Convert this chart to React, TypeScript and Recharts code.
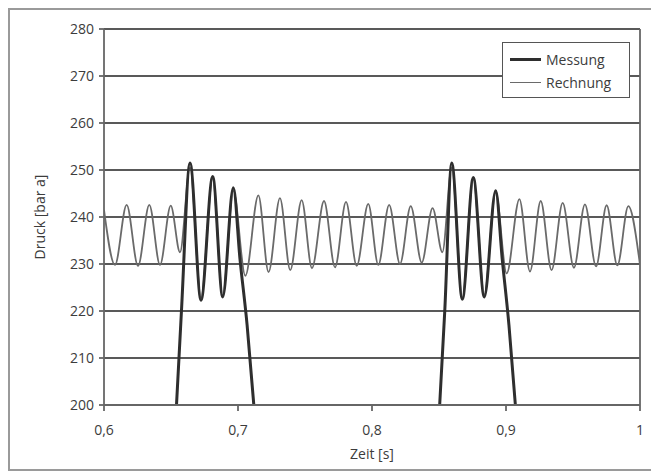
import React from 'react';
import { LineChart, Line, XAxis, YAxis, CartesianGrid, Legend, ReferenceLine } from 'recharts';

// Rechnung (computed) – extrema
const rechnungZeit = [
  0.6, 0.6082, 0.6169, 0.6254, 0.6338, 0.6418, 0.6498, 0.6567, 0.6642, 0.6724,
  0.6811, 0.6886, 0.6965, 0.7055, 0.7152, 0.7228, 0.7313, 0.739, 0.7475, 0.7552,
  0.7642, 0.7724, 0.7806, 0.7886, 0.7972, 0.8047, 0.8128, 0.8209, 0.8289, 0.8371,
  0.8452, 0.8525, 0.8595, 0.8674, 0.8756, 0.8838, 0.8923, 0.9005, 0.91, 0.9179,
  0.9259, 0.934, 0.9423, 0.9507, 0.9589, 0.9672, 0.9751, 0.9831, 0.9913, 1.0,
];
const rechnungDruck = [
  241.5, 229.8, 242.6, 229.6, 242.6, 229.8, 242.4, 232.5, 250.5, 222.8,
  248.2, 223.3, 245.6, 227.5, 244.6, 228.3, 244.0, 228.7, 243.6, 229.1,
  243.4, 229.3, 243.2, 229.6, 242.8, 229.8, 242.6, 230.0, 242.3, 230.3,
  241.9, 232.5, 250.5, 222.8, 248.0, 223.5, 245.2, 228.0, 243.8, 228.4,
  243.4, 228.7, 243.0, 229.2, 242.7, 229.5, 242.5, 229.7, 242.3, 229.8,
];

// Messung (measured) – two bursts, null separates them
const messungZeit = [
  0.6541, 0.6578, 0.6642, 0.6724, 0.6811, 0.6886, 0.6965, 0.7015, 0.7068, 0.7118,
  0.78,
  0.8505, 0.8543, 0.8595, 0.8674, 0.8756, 0.8838, 0.8923, 0.8972, 0.9022, 0.907,
];
const messungDruck: (number | null)[] = [
  200, 220, 251.5, 222.3, 248.6, 223.0, 246.2, 231, 217, 200,
  null,
  200, 220, 251.5, 222.5, 248.4, 223.0, 245.6, 231, 217, 200,
];

const xTicks = [0.6, 0.7, 0.8, 0.9, 1];
const yTicks = [200, 210, 220, 230, 240, 250, 260, 270, 280];

const rechnungData = rechnungZeit.map((t, i) => ({ t, p: rechnungDruck[i] }));
const messungData = messungZeit.map((t, i) => ({ t, p: messungDruck[i] }));

const FONT = '"Open Sans", "Noto Sans", sans-serif';

const legendItems = [
  { name: 'Messung', color: '#2e2e2e', width: 3 },
  { name: 'Rechnung', color: '#6a6a6a', width: 1.6 },
];

const LegendBox = () => (
  <div
    style={{
      width: 128,
      height: 56,
      boxSizing: 'border-box',
      border: '1.5px solid #555',
      background: '#fff',
      fontFamily: FONT,
      fontSize: 14,
      color: '#3c3c3c',
      paddingTop: 5,
    }}
  >
    {legendItems.map((it) => (
      <div key={it.name} style={{ display: 'flex', alignItems: 'center', height: 23, paddingLeft: 7 }}>
        <div style={{ width: 31, height: it.width, background: it.color, marginRight: 5 }} />
        <span>{it.name}</span>
      </div>
    ))}
  </div>
);

export default function App() {
  return (
    <div style={{ width: 641, height: 459, border: '2px solid #9a9a9a', background: '#fff' }}>
      <LineChart width={641} height={459} margin={{ top: 19, right: 11, bottom: 4, left: 0 }}>
        <CartesianGrid horizontal vertical={false} stroke="#595959" strokeWidth={1.8} />
        <XAxis
          type="number"
          dataKey="t"
          domain={[0.6, 1]}
          ticks={xTicks}
          allowDataOverflow
          height={60}
          tickSize={6}
          tickMargin={14}
          stroke="#666"
          strokeWidth={1.8}
          tick={{ fill: '#3c3c3c', fontSize: 14, fontFamily: FONT }}
          tickFormatter={(v: number) => String(v).replace('.', ',')}
          label={{ value: 'Zeit [s]', position: 'insideBottom', offset: 6, fill: '#3c3c3c', fontSize: 14, fontFamily: FONT }}
        />
        <YAxis
          type="number"
          dataKey="p"
          domain={[200, 280]}
          ticks={yTicks}
          allowDataOverflow
          width={94}
          tickSize={5}
          tickMargin={5}
          stroke="#666"
          strokeWidth={1.8}
          tick={{ fill: '#3c3c3c', fontSize: 14, fontFamily: FONT }}
          label={{
            value: 'Druck [bar a]',
            angle: -90,
            position: 'insideLeft',
            offset: 30,
            fill: '#3c3c3c',
            fontSize: 14,
            fontFamily: FONT,
            style: { textAnchor: 'middle' },
          }}
        />
        <ReferenceLine x={1} stroke="#666" strokeWidth={1.8} />
        <Legend
          layout="vertical"
          align="center"
          verticalAlign="middle"
          wrapperStyle={{ left: 492, top: 32, width: 128, height: 56 }}
          content={() => <LegendBox />}
        />
        <Line
          data={rechnungData}
          dataKey="p"
          name="Rechnung"
          type="monotone"
          stroke="#6a6a6a"
          strokeWidth={1.8}
          dot={false}
          isAnimationActive={false}
        />
        <Line
          data={messungData}
          dataKey="p"
          name="Messung"
          type="monotone"
          stroke="#2e2e2e"
          strokeWidth={3}
          dot={false}
          connectNulls={false}
          isAnimationActive={false}
        />
      </LineChart>
    </div>
  );
}
